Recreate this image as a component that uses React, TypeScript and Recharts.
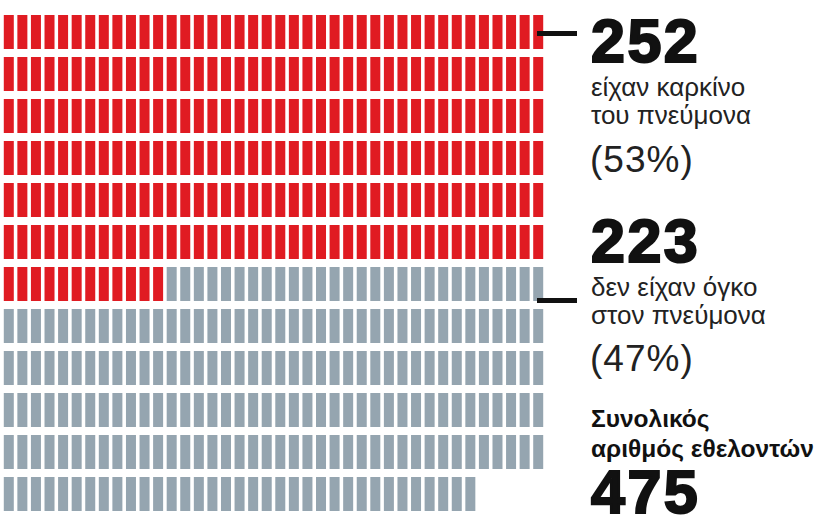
import React from "react";
import { ScatterChart, Scatter, XAxis, YAxis } from "recharts";

const categories = ["είχαν καρκίνο του πνεύμονα", "δεν είχαν όγκο στον πνεύμονα"];
const counts = [252, 223];
const percents = ["(53%)", "(47%)"];
const colors = ["#e01b22", "#95a5b0"];
const PER_ROW = 40;
const TOTAL = counts.reduce((a, b) => a + b, 0);

// one unit per volunteer, laid out row by row
const units = Array.from({ length: TOTAL }, (_, i) => ({
  col: i % PER_ROW,
  row: Math.floor(i / PER_ROW),
  group: i < counts[0] ? 0 : 1,
}));
const ROWS = Math.ceil(TOTAL / PER_ROW);

const UnitBar = (props: any) => {
  const { cx, cy, payload } = props;
  return (
    <rect
      x={cx - 5}
      y={cy - 17}
      width={10}
      height={34}
      fill={colors[payload.group]}
    />
  );
};

const FONT = "'Liberation Sans', Arial, sans-serif";

const BigNum = ({ y, children }: { y: number; children: React.ReactNode }) => (
  <text
    x={591}
    y={y}
    fontSize={61}
    fontWeight={900}
    fill="#111"
    letterSpacing={2.5}
    stroke="#111"
    strokeWidth={2.2}
  >
    {children}
  </text>
);

export default function App() {
  return (
    <div
      style={{
        position: "fixed",
        left: 0,
        top: 0,
        width: 818,
        height: 515,
        background: "#fff",
        overflow: "hidden",
      }}
    >
      <ScatterChart
        width={818}
        height={515}
        margin={{ top: 11, right: 273, bottom: 0, left: 2 }}
      >
        <XAxis
          type="number"
          dataKey="col"
          domain={[-0.5, PER_ROW - 0.5]}
          hide
        />
        <YAxis
          type="number"
          dataKey="row"
          domain={[-0.5, ROWS - 0.5]}
          reversed
          hide
        />
        {[0, 1].map((g) => (
          <Scatter
            key={g}
            name={categories[g]}
            data={units.filter((u) => u.group === g)}
            shape={UnitBar}
            isAnimationActive={false}
          />
        ))}
      </ScatterChart>
      <svg
        width={818}
        height={515}
        style={{ position: "absolute", left: 0, top: 0 }}
        fontFamily={FONT}
      >
        <rect x={537} y={31} width={40} height={5} fill="#111" />
        <rect x={537} y={298} width={40} height={5} fill="#111" />

        <BigNum y={62}>{counts[0]}</BigNum>
        <text x={591} y={96} fontSize={26} fill="#222">είχαν καρκίνο</text>
        <text x={591} y={124} fontSize={26} fill="#222">του πνεύμονα</text>
        <text x={590} y={172} fontSize={37} fill="#222" letterSpacing={1}>{percents[0]}</text>

        <BigNum y={262}>{counts[1]}</BigNum>
        <text x={591} y={296} fontSize={26} fill="#222">δεν είχαν όγκο</text>
        <text x={591} y={324} fontSize={26} fill="#222">στον πνεύμονα</text>
        <text x={590} y={371} fontSize={37} fill="#222" letterSpacing={1}>{percents[1]}</text>

        <text x={591} y={427} fontSize={24.5} fontWeight={700} fill="#111">Συνολικός</text>
        <text x={591} y={457} fontSize={24.5} fontWeight={700} fill="#111">αριθμός εθελοντών</text>
        <BigNum y={513}>{TOTAL}</BigNum>
      </svg>
    </div>
  );
}
